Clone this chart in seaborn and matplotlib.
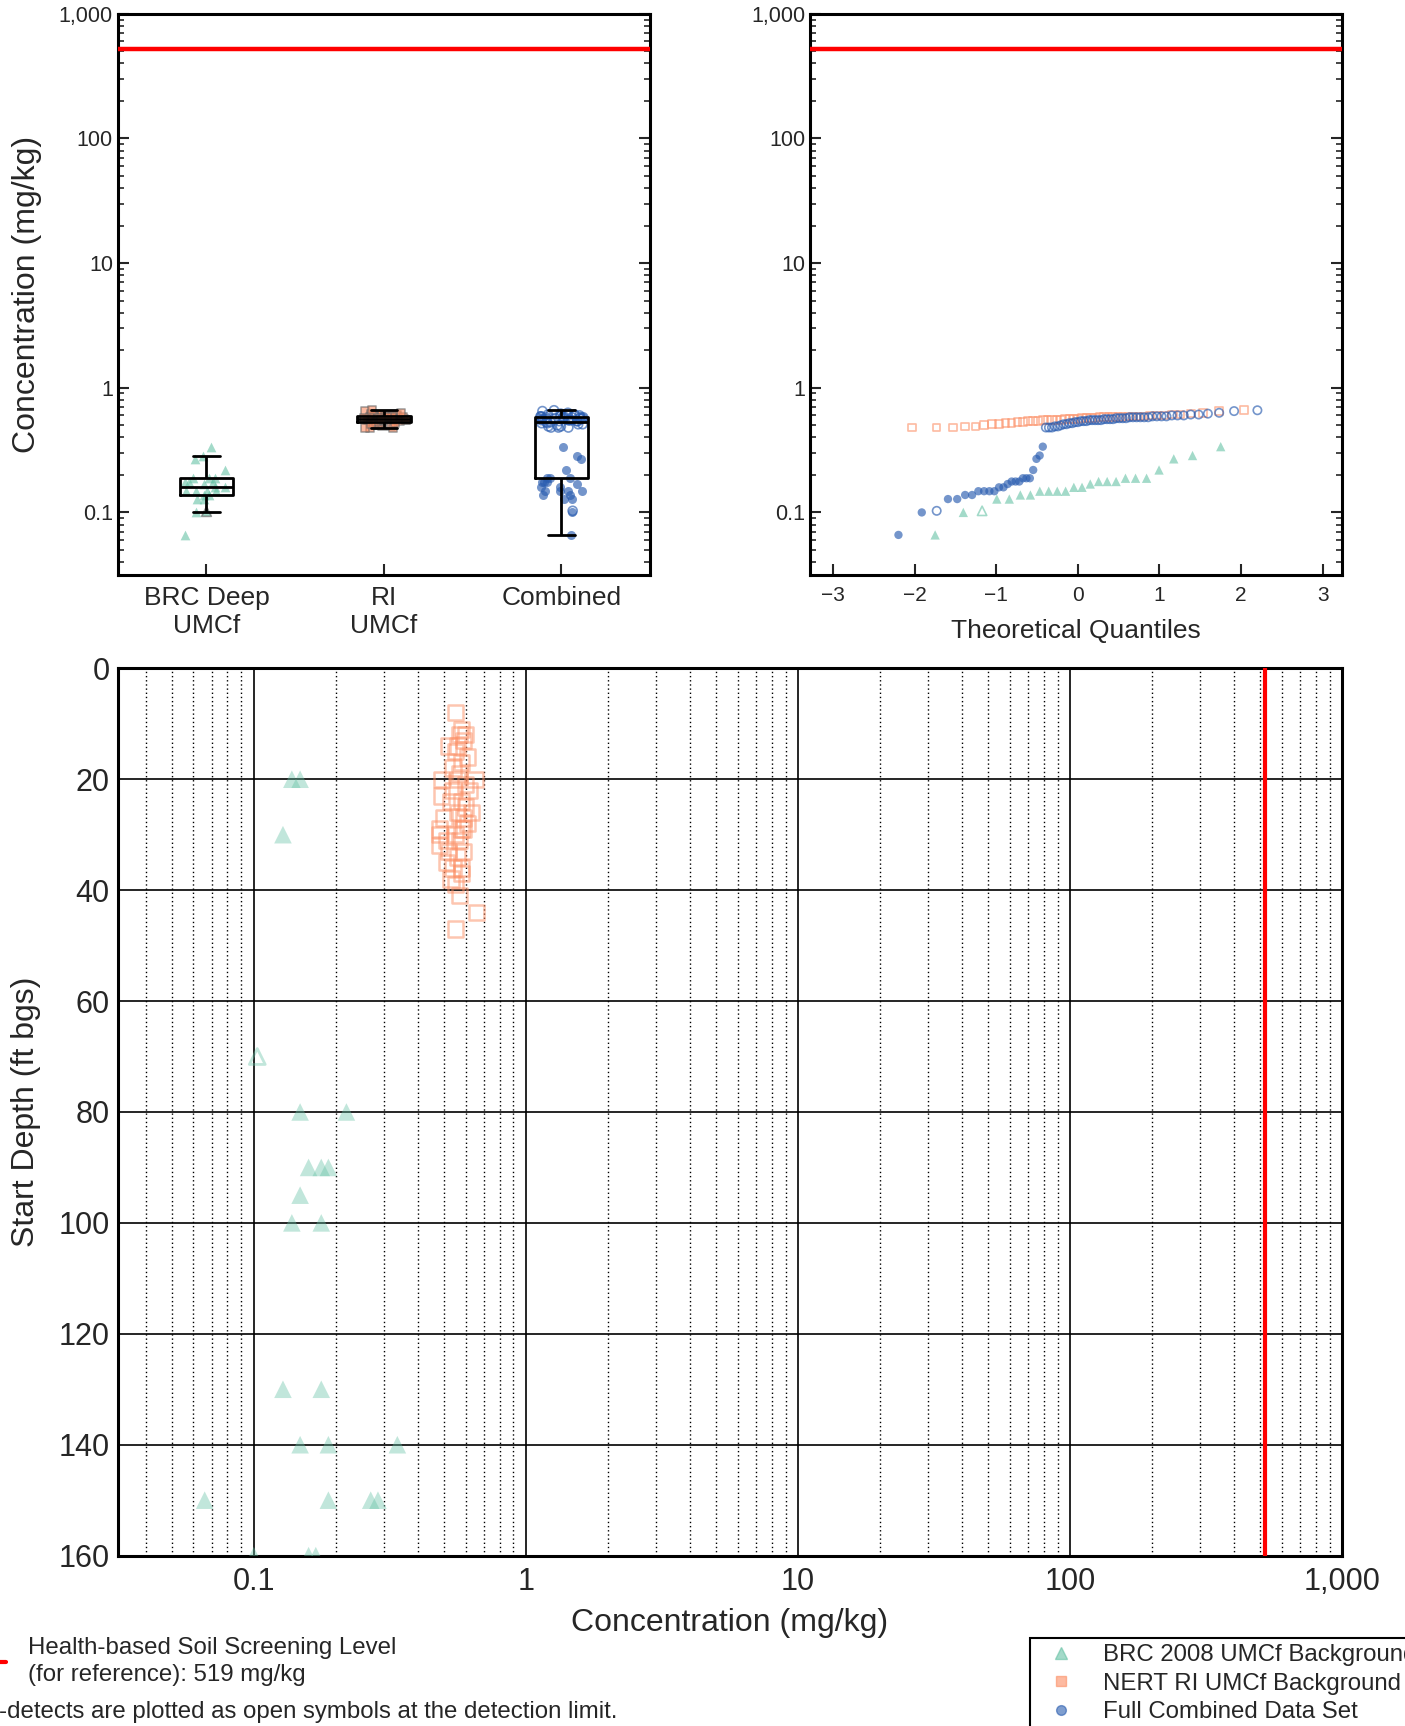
import numpy as np
import pandas as pd
import seaborn as sns
from statistics import NormalDist
from matplotlib import pyplot as plt
from matplotlib.lines import Line2D
from matplotlib.ticker import FuncFormatter, LogLocator, MultipleLocator, NullFormatter

sns.set_style('white')
plt.rcParams['font.family'] = ['Liberation Sans', 'DejaVu Sans']
plt.rcParams['axes.unicode_minus'] = True

# BRC 2008 deep UMCf background: start depth (ft bgs), concentration (mg/kg), non-detect flag
brc_depth = [20, 20, 30, 70, 80, 80, 90, 90, 90, 95, 100, 100,
             130, 130, 140, 140, 140, 150, 150, 150, 150, 160, 160, 160]
brc_conc = [0.138, 0.148, 0.128, 0.103, 0.148, 0.219, 0.159, 0.177, 0.188, 0.148, 0.138, 0.177,
            0.128, 0.177, 0.148, 0.188, 0.337, 0.066, 0.188, 0.269, 0.286, 0.100, 0.159, 0.169]
brc_nd = [0, 0, 0, 1, 0, 0, 0, 0, 0, 0, 0, 0,
          0, 0, 0, 0, 0, 0, 0, 0, 0, 0, 0, 0]

# NERT RI UMCf background (all non-detects)
ri_depth = [8, 11, 12, 12, 13, 14, 14, 15, 16, 17, 18, 19, 20, 20, 20, 21,
            22, 22, 23, 24, 24, 25, 26, 26, 27, 27, 28, 29, 29, 29, 30, 30,
            31, 32, 33, 33, 34, 35, 36, 36, 37, 38, 39, 41, 44, 47, 31]
ri_conc = [0.55, 0.58, 0.60, 0.57, 0.59, 0.52, 0.56, 0.55, 0.61, 0.58, 0.54, 0.57, 0.65, 0.49, 0.56, 0.60,
           0.62, 0.54, 0.49, 0.53, 0.58, 0.60, 0.63, 0.56, 0.50, 0.59, 0.61, 0.58, 0.48, 0.59, 0.48, 0.55,
           0.57, 0.48, 0.52, 0.59, 0.56, 0.51, 0.58, 0.54, 0.58, 0.53, 0.55, 0.57, 0.66, 0.55, 0.51]
ri_nd = [1] * len(ri_conc)

groups = ['BRC Deep\nUMCf', 'RI\nUMCf', 'Combined']
legend_labels = ['BRC 2008 UMCf Background', 'NERT RI UMCf Background', 'Full Combined Data Set']
ssl = 519

green, orange, blue = '#66c2a5', '#fc8d62', '#2a5db0'

brc = pd.DataFrame({'depth': brc_depth, 'conc': brc_conc, 'nd': brc_nd})
ri = pd.DataFrame({'depth': ri_depth, 'conc': ri_conc, 'nd': ri_nd})
comb = pd.concat([brc, ri], ignore_index=True)

box_df = pd.concat([brc.assign(group=groups[0]), ri.assign(group=groups[1]),
                    comb.assign(group=groups[2])], ignore_index=True)


def qq_frame(df):
    d = df.sort_values('conc', kind='stable').reset_index(drop=True)
    n = len(d)
    d['q'] = [NormalDist().inv_cdf((i + 1) / (n + 1)) for i in range(n)]
    return d


def log_fmt(v, _):
    return f'{v:,.0f}' if v >= 1 else f'{v:g}'


np.random.seed(3)
fig = plt.figure(figsize=(14.05, 17.26), dpi=100)

# ---- box plot ----
ax1 = fig.add_axes([0.0838, 0.667, 0.3789, 0.325])
ax1.set_yscale('log')
styles = [(groups[0], '^', green, 7, 0.6), (groups[1], 's', orange, 6, 0.6), (groups[2], 'o', blue, 6.5, 0.65)]
for name, m, c, sz, a in styles:
    for nd in (0, 1):
        sub = box_df[(box_df['group'] == name) & (box_df['nd'] == nd)]
        if sub.empty:
            continue
        sns.stripplot(data=sub, x='group', y='conc', order=groups, ax=ax1, marker=m, color=c,
                      size=sz, alpha=a, jitter=0.13, linewidth=1.2 if nd else 0, zorder=1)
        if nd:
            pts = ax1.collections[-1]
            pts.set_facecolor('none')
            pts.set_edgecolor(c)
sns.boxplot(data=box_df, x='group', y='conc', order=groups, ax=ax1, width=0.3, fill=False,
            color='black', linewidth=2, showfliers=False, whis=1.5)
ax1.axhline(ssl, color='red', lw=3.2, zorder=5)

# ---- probability plot ----
ax2 = fig.add_axes([0.5768, 0.667, 0.3785, 0.325])
ax2.set_yscale('log')
qq_sets = [(qq_frame(brc), '^', green, 45, 0.6), (qq_frame(ri), 's', orange, 30, 0.6),
           (qq_frame(comb), 'o', blue, 36, 0.65)]
for d, m, c, s, a in qq_sets:
    for nd in (0, 1):
        sub = d[d['nd'] == nd]
        if sub.empty:
            continue
        if nd:
            sns.scatterplot(data=sub, x='q', y='conc', ax=ax2, marker=m, s=s, alpha=a,
                            facecolor='none', edgecolor=c, linewidth=1.2, zorder=3)
        else:
            sns.scatterplot(data=sub, x='q', y='conc', ax=ax2, marker=m, s=s, alpha=a,
                            color=c, edgecolor='none', linewidth=0, zorder=3)
ax2.axhline(ssl, color='red', lw=3.2, zorder=5)
ax2.set_xlim(-3.28, 3.24)
ax2.xaxis.set_major_locator(MultipleLocator(1))
ax2.set_xlabel('Theoretical Quantiles', fontsize=19, labelpad=10)
ax2.set_ylabel('')

for ax in (ax1, ax2):
    ax.set_ylim(10 ** -1.5, 1000)
    ax.yaxis.set_major_locator(LogLocator(base=10, numticks=10))
    ax.yaxis.set_minor_locator(LogLocator(base=10, subs=np.arange(2, 10), numticks=20))
    ax.yaxis.set_major_formatter(FuncFormatter(log_fmt))
    ax.yaxis.set_minor_formatter(NullFormatter())
    ax.tick_params(axis='y', which='both', direction='in', left=True, right=True, labelsize=15.5)
    ax.tick_params(axis='y', which='major', length=8, width=1.5)
    ax.tick_params(axis='y', which='minor', length=4, width=1.2)
    ax.tick_params(axis='x', direction='in', bottom=True, length=8, width=1.5)
    for sp in ax.spines.values():
        sp.set_linewidth(2.2)
        sp.set_color('black')

ax1.tick_params(axis='x', labelsize=19, pad=8)
ax2.tick_params(axis='x', labelsize=15, pad=8)
ax1.set_xlabel('')
ax1.set_ylabel('Concentration (mg/kg)', fontsize=23, labelpad=12)

# ---- depth profile ----
ax3 = fig.add_axes([0.0838, 0.0987, 0.8715, 0.5141])
ax3.set_xscale('log')
sns.scatterplot(data=brc[brc['nd'] == 0], x='conc', y='depth', ax=ax3, marker='^', s=160,
                color=green, alpha=0.4, edgecolor='none', linewidth=0, zorder=3)
sns.scatterplot(data=brc[brc['nd'] == 1], x='conc', y='depth', ax=ax3, marker='^', s=130,
                facecolor='none', edgecolor=green, alpha=0.4, linewidth=2, zorder=3)
sns.scatterplot(data=ri, x='conc', y='depth', ax=ax3, marker='s', s=121,
                facecolor='none', edgecolor=orange, alpha=0.5, linewidth=1.8, zorder=3)
ax3.axvline(ssl, color='red', lw=3, zorder=4)
ax3.set_xlim(10 ** -1.5, 1000)
ax3.set_ylim(160, 0)
ax3.yaxis.set_major_locator(MultipleLocator(20))
ax3.xaxis.set_major_locator(LogLocator(base=10, numticks=10))
ax3.xaxis.set_minor_locator(LogLocator(base=10, subs=np.arange(2, 10), numticks=20))
ax3.xaxis.set_major_formatter(FuncFormatter(log_fmt))
ax3.xaxis.set_minor_formatter(NullFormatter())
ax3.grid(True, which='major', color='black', lw=1.2, ls='-')
ax3.grid(True, which='minor', axis='x', color='black', lw=1, ls=(0, (1, 2)))
ax3.set_axisbelow(True)
ax3.tick_params(axis='both', which='both', length=0, labelsize=22)
ax3.tick_params(axis='x', pad=8)
ax3.tick_params(axis='y', pad=6)
for sp in ax3.spines.values():
    sp.set_linewidth(2.2)
    sp.set_color('black')
ax3.set_xlabel('Concentration (mg/kg)', fontsize=23, labelpad=8)
ax3.set_ylabel('Start Depth (ft bgs)', fontsize=23, labelpad=12)

# ---- notes and legend ----
fig.add_artist(Line2D([-0.02, 0.0045], [0.0368, 0.0368], color='red', lw=3, transform=fig.transFigure))
fig.text(0.0196, 0.0452, 'Health-based Soil Screening Level', fontsize=17.3, va='center')
fig.text(0.0196, 0.0298, f'(for reference): {ssl} mg/kg', fontsize=17.3, va='center')
fig.text(0.4396, 0.0081, 'Non-detects are plotted as open symbols at the detection limit.',
         fontsize=17.3, va='center', ha='right')

handles = [Line2D([], [], ls='none', marker='^', ms=8, color=green, alpha=0.6),
           Line2D([], [], ls='none', marker='s', ms=7, color=orange, alpha=0.6),
           Line2D([], [], ls='none', marker='o', ms=7, color=blue, alpha=0.6)]
leg = fig.legend(handles, legend_labels, loc='upper left', bbox_to_anchor=(0.7249, 0.0580),
                 fontsize=17.3, frameon=True, fancybox=False, edgecolor='black', framealpha=1,
                 borderpad=0.25, labelspacing=0.28, handletextpad=0.75, handlelength=2)
leg.get_frame().set_linewidth(1.5)

fig.savefig('out.png', dpi=100)
